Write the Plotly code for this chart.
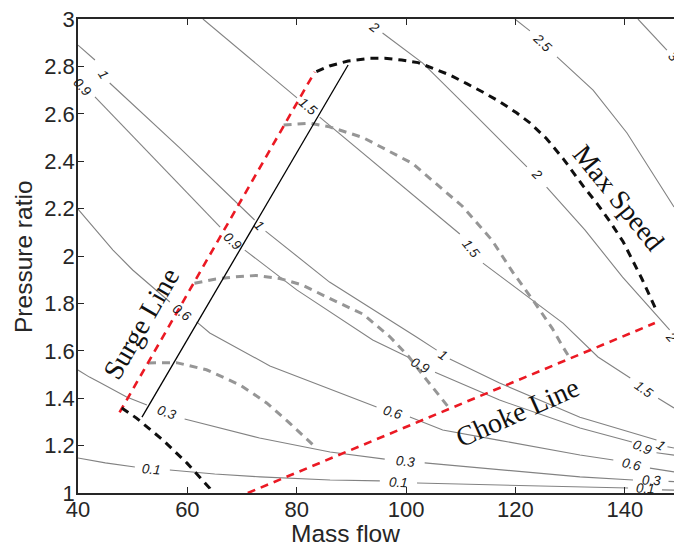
import math
import plotly.graph_objects as go

# ---------------- data ----------------
# Contour lines (iso lines); None = gap where the label sits
c01_x = [40, 45, 50.4, None, 56.8, 65, 73.3, 86.1, 95.2, None, 102.0, 117.1, 131.8, 140.6, None, 146.8, 149]
c01_y = [1.148, 1.127, 1.110, None, 1.097, 1.080, 1.068, 1.055, 1.051, None, 1.042, 1.034, 1.025, 1.021, None, 1.013, 1.012]

c03_x = [40, 42.1, 44, 48.9, 52.6, None, 59.5, 66, 73.2, 86.1, 96.1, None, 103.4, 117.1, 131.8, 141.5, None, 148.0, 149]
c03_y = [1.519, 1.489, 1.466, 1.405, 1.371, None, 1.312, 1.274, 1.232, 1.173, 1.143, None, 1.127, 1.098, 1.068, 1.055, None, 1.049, 1.048]

c06_x = [40, 46.4, 50.0, 56.8, None, 61.7, 64.1, 75.1, 87.9, 94.6, None, 100.7, 106.7, 117.1, 131.8, 137.9, None, 144.6, 149]
c06_y = [2.198, 2.025, 1.941, 1.806, None, 1.722, 1.675, 1.536, 1.422, 1.363, None, 1.321, 1.266, 1.222, 1.160, 1.139, None, 1.105, 1.089]

c09_x = [43.1, 53.1, 66.0, None, 70.5, 80.0, 93.9, 100.7, None, 105.3, 117.1, 131.8, 141.3, None, 145.8, 149]
c09_y = [2.671, 2.430, 2.122, None, 2.025, 1.857, 1.646, 1.570, None, 1.510, 1.392, 1.274, 1.215, None, 1.170, 1.160]

c1_x = [40, 43.1, None, 45.8, 58.6, 72.3, None, 74.3, 86.0, 101.9, 105.6, None, 108.0, 117.1, 131.8, 145.8, None, 147.8, 149]
c1_y = [2.890, 2.827, None, 2.730, 2.456, 2.152, None, 2.105, 1.890, 1.658, 1.603, None, 1.565, 1.464, 1.320, 1.224, None, 1.195, 1.190]

c15_x = [62.85, 71.45, 80.05, None, 84.2, 98.85, 109.83, None, 114.05, 128.7, 135.1, 141.0, None, 146.1, 149]
c15_y = [3.0, 2.835, 2.667, None, 2.586, 2.304, 2.093, None, 1.970, 1.717, 1.574, 1.485, None, 1.400, 1.359]

c2_x = [95.7, 103.05, 112.6, 122.1, None, 125.7, 132.7, 139.6, 148.2]
c2_y = [2.941, 2.814, 2.595, 2.376, None, 2.291, 2.110, 1.911, 1.688]

c25_x = [119.9, 122.65, None, 127.6, 134.2, 140.4, 148.3, 149]
c25_y = [3.0, 2.95, None, 2.84, 2.70, 2.519, 2.236, 2.207]

c3_x = [142.4, 147.7]
c3_y = [3.0, 2.869]

contour_x = [c01_x, c03_x, c06_x, c09_x, c1_x, c15_x, c2_x, c25_x, c3_x]
contour_y = [c01_y, c03_y, c06_y, c09_y, c1_y, c15_y, c2_y, c25_y, c3_y]

# contour labels: text, x, y, index of contour line
lab_text = ["0.1", "0.1", "0.1", "0.3", "0.3", "0.3", "0.6", "0.6", "0.6",
            "0.9", "0.9", "0.9", "0.9", "1", "1", "1", "1", "1.5", "1.5", "1.5",
            "2", "2", "2", "2.5", "3"]
lab_x = [53.5, 98.6, 143.8, 56.2, 99.9, 144.9, 58.9, 97.6, 141.3,
         40.9, 68.3, 102.6, 143.3, 44.6, 73.1, 106.8, 146.6, 82.0, 111.8, 143.5,
         94.3, 123.9, 148.6, 124.85, 148.8]
lab_y = [1.101, 1.044, 1.017, 1.338, 1.133, 1.051, 1.760, 1.338, 1.122,
         2.713, 2.062, 1.540, 1.194, 2.764, 2.127, 1.580, 1.200, 2.629, 2.030, 1.435,
         2.966, 2.342, 1.658, 2.899, 2.840]
lab_line = [0, 0, 0, 1, 1, 1, 2, 2, 2, 3, 3, 3, 3, 4, 4, 4, 4, 5, 5, 5, 6, 6, 6, 7, 8]

# speed lines (grey dashed)
spd1_x = [52.8, 58.0, 63.5, 69.6, 72.0, 74.5, 78.7, 83.6]
spd1_y = [1.549, 1.550, 1.520, 1.456, 1.420, 1.380, 1.295, 1.190]
spd2_x = [61.3, 65.0, 68.3, 72.6, 76.9, 81.0, 86.1, 92.1, 97.0, 100.5, 103.5, 106.0, 108.0]
spd2_y = [1.885, 1.902, 1.911, 1.918, 1.905, 1.878, 1.820, 1.755, 1.660, 1.575, 1.485, 1.410, 1.355]
spd3_x = [77.6, 80.0, 82.5, 86.0, 92.1, 101.2, 110.3, 115.7, 119.5, 123.2, 126.7, 128.7, 129.6]
spd3_y = [2.553, 2.557, 2.560, 2.545, 2.500, 2.390, 2.210, 2.067, 1.932, 1.814, 1.696, 1.616, 1.582]

# max speed (black dashed)
maxs_x = [83.6, 86.0, 89.4, 93.4, 96.1, 99.2, 102.2, 105.0, 108.0, 111.1, 114.1, 117.2, 120.2,
          122.65, 125.7, 128.75, 132.4, 134.9, 137.3, 139.7, 141.6, 143.1, 144.5, 145.9]
maxs_y = [2.778, 2.802, 2.823, 2.834, 2.834, 2.827, 2.816, 2.792, 2.764, 2.727, 2.691, 2.650, 2.604,
          2.562, 2.495, 2.410, 2.295, 2.222, 2.145, 2.060, 1.975, 1.905, 1.835, 1.764]

# min speed (black dashed, lower left)
mins_x = [48.0, 50.7, 55.5, 59.9, 64.1, 64.5]
mins_y = [1.359, 1.316, 1.224, 1.127, 1.020, 1.000]

# surge line (red dashed), operating line (black solid), choke line (red dashed)
surge_x = [47.6, 83.3]
surge_y = [1.340, 2.777]
oper_x = [51.7, 89.4]
oper_y = [1.320, 2.806]
choke_x = [71.05, 145.5]
choke_y = [1.000, 1.717]

x_ticks = [40, 60, 80, 100, 120, 140]
y_ticks = [1, 1.2, 1.4, 1.6, 1.8, 2, 2.2, 2.4, 2.6, 2.8, 3]
y_ticktext = ["1", "1.2", "1.4", "1.6", "1.8", "2", "2.2", "2.4", "2.6", "2.8", "3"]

# ---------------- figure ----------------
W, H = 674, 546
ML, MR, MT, MB = 78, 0, 19, 53
XR = [40, 149.0]
YR = [1, 3]
kx = (W - ML - MR) / (XR[1] - XR[0])
ky = (H - MT - MB) / (YR[1] - YR[0])

fig = go.Figure()

for cx, cy in zip(contour_x, contour_y):
    fig.add_trace(go.Scatter(x=cx, y=cy, mode="lines", connectgaps=False,
                             line=dict(color="rgb(130,130,130)", width=1.1),
                             hoverinfo="skip", showlegend=False))

dash = "8px,6px"
for sx, sy in [(spd1_x, spd1_y), (spd2_x, spd2_y), (spd3_x, spd3_y)]:
    fig.add_trace(go.Scatter(x=sx, y=sy, mode="lines",
                             line=dict(color="rgb(150,150,150)", width=3, dash=dash),
                             showlegend=False))

fig.add_trace(go.Scatter(x=oper_x, y=oper_y, mode="lines",
                         line=dict(color="black", width=1.3), showlegend=False))
fig.add_trace(go.Scatter(x=surge_x, y=surge_y, mode="lines",
                         line=dict(color="rgb(235,25,35)", width=2.6, dash=dash), showlegend=False))
fig.add_trace(go.Scatter(x=choke_x, y=choke_y, mode="lines",
                         line=dict(color="rgb(235,25,35)", width=2.6, dash=dash), showlegend=False))
fig.add_trace(go.Scatter(x=maxs_x, y=maxs_y, mode="lines",
                         line=dict(color="rgb(15,15,15)", width=3, dash=dash), showlegend=False))
fig.add_trace(go.Scatter(x=mins_x, y=mins_y, mode="lines",
                         line=dict(color="rgb(15,15,15)", width=3, dash=dash), showlegend=False))

# contour labels rotated along their line
annotations = []
for t, lx, ly, li in zip(lab_text, lab_x, lab_y, lab_line):
    pts = [(a, b) for a, b in zip(contour_x[li], contour_y[li]) if a is not None]
    before = [p for p in pts if p[0] < lx]
    after = [p for p in pts if p[0] > lx]
    if before and after:
        p1, p2 = before[-1], after[0]
    elif after:
        p1, p2 = after[0], after[1]
    else:
        p1, p2 = before[-2], before[-1]
    ang = math.degrees(math.atan2(-(p2[1] - p1[1]) * ky, (p2[0] - p1[0]) * kx))
    annotations.append(dict(x=lx, y=ly, xref="x", yref="y", text=t, showarrow=False,
                            textangle=ang, xanchor="center", yanchor="middle",
                            font=dict(family="Liberation Sans", size=13.5, color="#1a1a1a", style="italic")))

serif = dict(family="Liberation Serif", size=28, color="#111")
annotations += [
    dict(x=51.5, y=1.717, xref="x", yref="y", text="Surge Line", showarrow=False, textangle=-60,
         xanchor="center", yanchor="middle", font=serif),
    dict(x=138.8, y=2.245, xref="x", yref="y", text="Max Speed", showarrow=False, textangle=51,
         xanchor="center", yanchor="middle", font=serif),
    dict(x=120.3, y=1.338, xref="x", yref="y", text="Choke Line", showarrow=False, textangle=-24,
         xanchor="center", yanchor="middle", font=serif),
    dict(x=0.448, y=-0.086, xref="paper", yref="paper", text="Mass flow", showarrow=False,
         xanchor="center", yanchor="middle",
         font=dict(family="Liberation Sans", size=24.5, color="#262626")),
    dict(x=-0.0923, y=0.5, xref="paper", yref="paper", text="Pressure ratio", showarrow=False,
         textangle=-90, xanchor="center", yanchor="middle",
         font=dict(family="Liberation Sans", size=24.5, color="#262626")),
]

axis_common = dict(showgrid=False, zeroline=False, showline=True, linecolor="#262626", linewidth=1.5,
                   ticks="inside", ticklen=6, tickwidth=1, tickcolor="#262626",
                   tickfont=dict(family="Liberation Sans", size=22, color="#262626"))

fig.update_layout(
    width=W, height=H, margin=dict(l=ML, r=MR, t=MT, b=MB, pad=0),
    paper_bgcolor="white", plot_bgcolor="white", showlegend=False,
    xaxis=dict(range=XR, tickvals=x_ticks, mirror="ticks", ticklabelstandoff=-4, **axis_common),
    yaxis=dict(range=YR, tickvals=y_ticks, ticktext=y_ticktext, mirror=False,
               ticklabelstandoff=-3, **axis_common),
    annotations=annotations,
)

fig.write_html("out.html")
